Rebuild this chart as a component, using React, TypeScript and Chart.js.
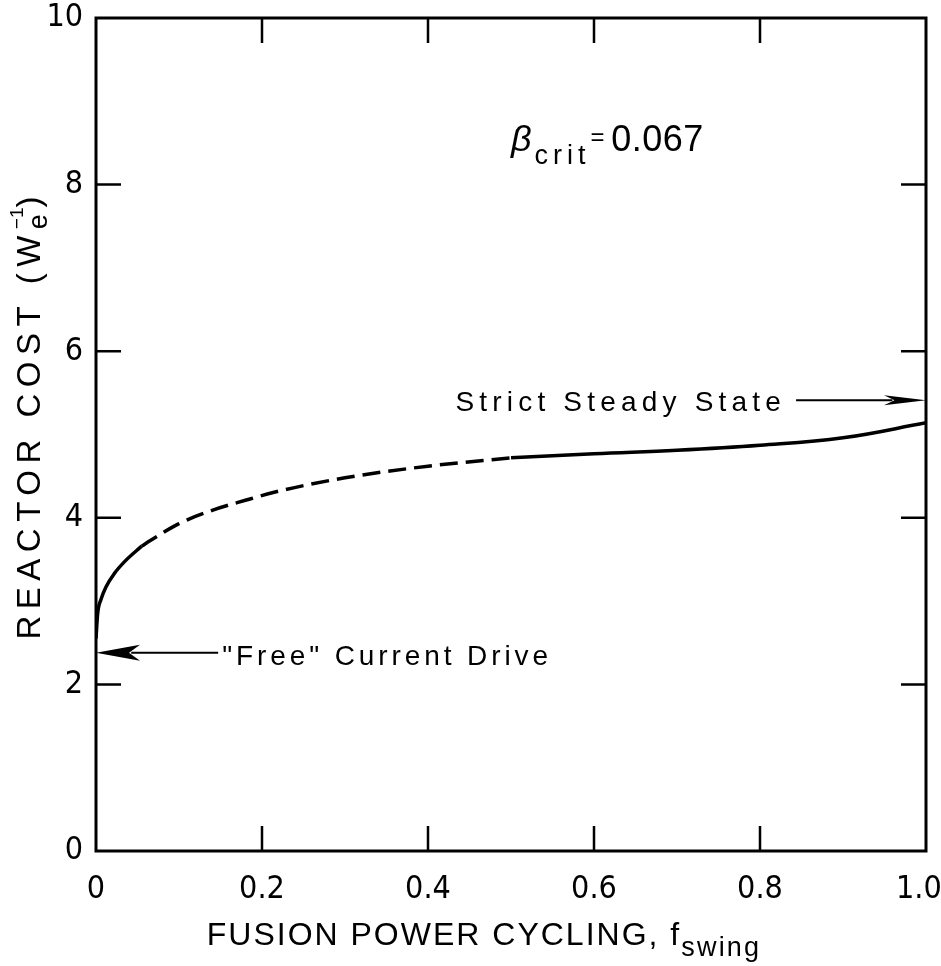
import React, { useEffect, useRef } from "react";
import { Chart, registerables } from "chart.js";

Chart.register(...registerables);

// ---- data ----
const fSolidA = [0, 0.002, 0.006, 0.012, 0.022, 0.035, 0.055];
const costSolidA = [2.55, 2.85, 3.02, 3.17, 3.33, 3.48, 3.66];

const fDashed = [0.055, 0.066, 0.1, 0.14, 0.18, 0.22, 0.3, 0.4, 0.5];
const costDashed = [3.66, 3.73, 3.93, 4.09, 4.21, 4.32, 4.48, 4.62, 4.72];

const fSolidB = [0.5, 0.6, 0.7, 0.8, 0.9, 1.0];
const costSolidB = [4.72, 4.77, 4.81, 4.87, 4.96, 5.14];

const xTicks = [0, 0.2, 0.4, 0.6, 0.8, 1.0];
const xTickLabels = ["0", "0.2", "0.4", "0.6", "0.8", "1.0\u2002"];
const yTicks = [0, 2, 4, 6, 8, 10];
const yTickLabels = ["0", "2", "4", "6", "8", "10"];

// annotation anchors (data units)
const freeDriveCost = 2.38;
const freeDriveTextF = 0.152;
const steadyStateCost = 5.41;
const steadyStateTextF = 0.433;
const betaTextF = 0.5;
const betaTextCost = 8.4;

const FONT = '"Liberation Sans", Arial, sans-serif';
const NARROW = '"Liberation Sans Narrow", "DejaVu Sans Condensed", "Liberation Sans", sans-serif';

type Part = {
  text: string;
  size: number;
  dy?: number;
  italic?: boolean;
  spacing?: number;
  stack?: boolean;
  family?: string;
};

function setFont(ctx: CanvasRenderingContext2D, p: Part) {
  ctx.font = `${p.italic ? "italic " : ""}${p.size}px ${p.family ?? FONT}`;
  (ctx as any).letterSpacing = `${p.spacing ?? 0}px`;
}

function partsWidth(ctx: CanvasRenderingContext2D, parts: Part[]) {
  let total = 0;
  let lastW = 0;
  for (const p of parts) {
    setFont(ctx, p);
    const w = ctx.measureText(p.text).width;
    if (p.stack) {
      if (w > lastW) total += w - lastW;
      lastW = Math.max(w, lastW);
    } else {
      total += w;
      lastW = w;
    }
  }
  return total;
}

function drawParts(
  ctx: CanvasRenderingContext2D,
  parts: Part[],
  x: number,
  y: number,
  align: "left" | "center"
) {
  let cx = align === "center" ? x - partsWidth(ctx, parts) / 2 : x;
  let lastX = cx;
  let lastW = 0;
  ctx.textAlign = "left";
  ctx.textBaseline = "alphabetic";
  for (const p of parts) {
    setFont(ctx, p);
    const w = ctx.measureText(p.text).width;
    if (p.stack) {
      ctx.fillText(p.text, lastX, y + (p.dy ?? 0));
      if (w > lastW) {
        cx = lastX + w;
        lastW = w;
      }
    } else {
      ctx.fillText(p.text, cx, y + (p.dy ?? 0));
      lastX = cx;
      lastW = w;
      cx += w;
    }
  }
  (ctx as any).letterSpacing = "0px";
}

function drawArrow(
  ctx: CanvasRenderingContext2D,
  xFrom: number,
  xTip: number,
  y: number,
  headLen: number,
  halfW: number
) {
  const dir = xFrom < xTip ? -1 : 1;
  ctx.beginPath();
  ctx.moveTo(xFrom, y);
  ctx.lineTo(xTip + dir * headLen * 0.8, y);
  ctx.lineWidth = 2;
  ctx.stroke();
  ctx.beginPath();
  ctx.moveTo(xTip, y);
  ctx.lineTo(xTip + dir * headLen, y - halfW);
  ctx.lineTo(xTip + dir * headLen * 0.75, y);
  ctx.lineTo(xTip + dir * headLen, y + halfW);
  ctx.closePath();
  ctx.fill();
}

const framePlugin = {
  id: "framePlugin",
  afterDraw(chart: any) {
    const ctx: CanvasRenderingContext2D = chart.ctx;
    const ca = chart.chartArea;
    const xs = chart.scales.x;
    const ys = chart.scales.y;
    ctx.save();
    ctx.strokeStyle = "#000";
    ctx.fillStyle = "#000";

    // frame
    ctx.lineWidth = 3;
    ctx.strokeRect(ca.left, ca.top, ca.right - ca.left, ca.bottom - ca.top);

    // inward ticks on all four sides
    const L = 25;
    ctx.lineWidth = 2.5;
    ctx.beginPath();
    for (const v of xTicks.slice(1, -1)) {
      const px = xs.getPixelForValue(v);
      ctx.moveTo(px, ca.bottom);
      ctx.lineTo(px, ca.bottom - L);
      ctx.moveTo(px, ca.top);
      ctx.lineTo(px, ca.top + L);
    }
    for (const v of yTicks.slice(1, -1)) {
      const py = ys.getPixelForValue(v);
      ctx.moveTo(ca.left, py);
      ctx.lineTo(ca.left + L, py);
      ctx.moveTo(ca.right, py);
      ctx.lineTo(ca.right - L, py);
    }
    ctx.stroke();

    // "Free" Current Drive
    const yFree = ys.getPixelForValue(freeDriveCost);
    const xFreeText = xs.getPixelForValue(freeDriveTextF);
    drawArrow(ctx, xFreeText - 4, ca.left, yFree, 44, 8);
    drawParts(
      ctx,
      [{ text: '"Free" Current Drive', size: 28, spacing: 3.9 }],
      xFreeText,
      yFree + 12,
      "left"
    );

    // Strict Steady State
    const ySteady = ys.getPixelForValue(steadyStateCost);
    const xSteadyText = xs.getPixelForValue(steadyStateTextF);
    const steadyParts: Part[] = [{ text: "Strict Steady State", size: 28, spacing: 5.2 }];
    drawParts(ctx, steadyParts, xSteadyText, ySteady + 11, "left");
    const steadyEnd = xSteadyText + partsWidth(ctx, steadyParts);
    drawArrow(ctx, steadyEnd + 10, ca.right, ySteady, 42, 5);

    // beta_crit = 0.067
    drawParts(
      ctx,
      [
        { text: "β", size: 36, italic: true, spacing: 3 },
        { text: "crit", size: 27, dy: 13, spacing: 5 },
        { text: "= ", size: 24, dy: -6 },
        { text: "0.067", size: 36, spacing: 0.5 },
      ],
      xs.getPixelForValue(betaTextF),
      ys.getPixelForValue(betaTextCost),
      "left"
    );

    // x-axis title
    drawParts(
      ctx,
      [
        { text: "FUSION POWER CYCLING, f", size: 32, spacing: 2 },
        { text: "swing", size: 27, dy: 11, spacing: 2.2 },
      ],
      484,
      945,
      "center"
    );

    // y-axis title (rotated)
    ctx.save();
    ctx.translate(40, 418);
    ctx.rotate(-Math.PI / 2);
    drawParts(
      ctx,
      [
        { text: "REACTOR COST (W", size: 33, spacing: 6.5 },
        { text: "e", size: 27, dy: 7 },
        { text: "−1", size: 19, dy: -17, stack: true },
        { text: ")", size: 33 },
      ],
      0,
      0,
      "center"
    );
    ctx.restore();

    ctx.restore();
  },
};

export default function App() {
  const ref = useRef<HTMLCanvasElement | null>(null);

  useEffect(() => {
    if (!ref.current) return;
    const toPts = (xs: number[], ys: number[]) => xs.map((x, i) => ({ x, y: ys[i] }));
    const common = {
      borderColor: "#000",
      borderWidth: 3.5,
      pointRadius: 0,
      fill: false,
      cubicInterpolationMode: "monotone" as const,
    };
    const chart = new Chart(ref.current, {
      type: "line",
      data: {
        datasets: [
          { ...common, data: toPts(fSolidA, costSolidA) },
          { ...common, data: toPts(fDashed, costDashed), borderDash: [18, 8] },
          {
            ...common,
            cubicInterpolationMode: "default" as const,
            tension: 0.4,
            data: toPts(fSolidB, costSolidB),
          },
        ],
      },
      options: {
        animation: false,
        responsive: true,
        maintainAspectRatio: false,
        layout: { padding: { top: 18, right: 15, left: 0, bottom: 0 } },
        plugins: { legend: { display: false }, tooltip: { enabled: false } },
        scales: {
          x: {
            type: "linear",
            min: 0,
            max: 1,
            afterBuildTicks: (s: any) => {
              s.ticks = xTicks.map((v) => ({ value: v }));
            },
            afterFit: (s: any) => {
              s.height = 115;
              s.paddingLeft = 0;
              s.paddingRight = 0;
            },
            ticks: {
              autoSkip: false,
              maxRotation: 0,
              padding: 19,
              color: "#000",
              font: { family: NARROW, size: 32 },
              callback: (v: any) => xTickLabels[xTicks.indexOf(Number(v))] ?? "",
            },
            grid: { display: false, drawTicks: false },
            border: { display: false },
          },
          y: {
            type: "linear",
            min: 0,
            max: 10,
            afterBuildTicks: (s: any) => {
              s.ticks = yTicks.map((v) => ({ value: v }));
            },
            afterFit: (s: any) => {
              s.width = 96;
              s.paddingTop = 0;
              s.paddingBottom = 0;
            },
            ticks: {
              autoSkip: false,
              padding: 13,
              color: "#000",
              font: { family: NARROW, size: 32 },
              callback: (v: any) => yTickLabels[yTicks.indexOf(Number(v))] ?? "",
            },
            grid: { display: false, drawTicks: false },
            border: { display: false },
          },
        },
      },
      plugins: [framePlugin],
    });
    return () => chart.destroy();
  }, []);

  return (
    <div
      style={{
        position: "fixed",
        left: 0,
        top: 0,
        width: 941,
        height: 966,
        background: "#fff",
      }}
    >
      <canvas ref={ref} />
    </div>
  );
}
